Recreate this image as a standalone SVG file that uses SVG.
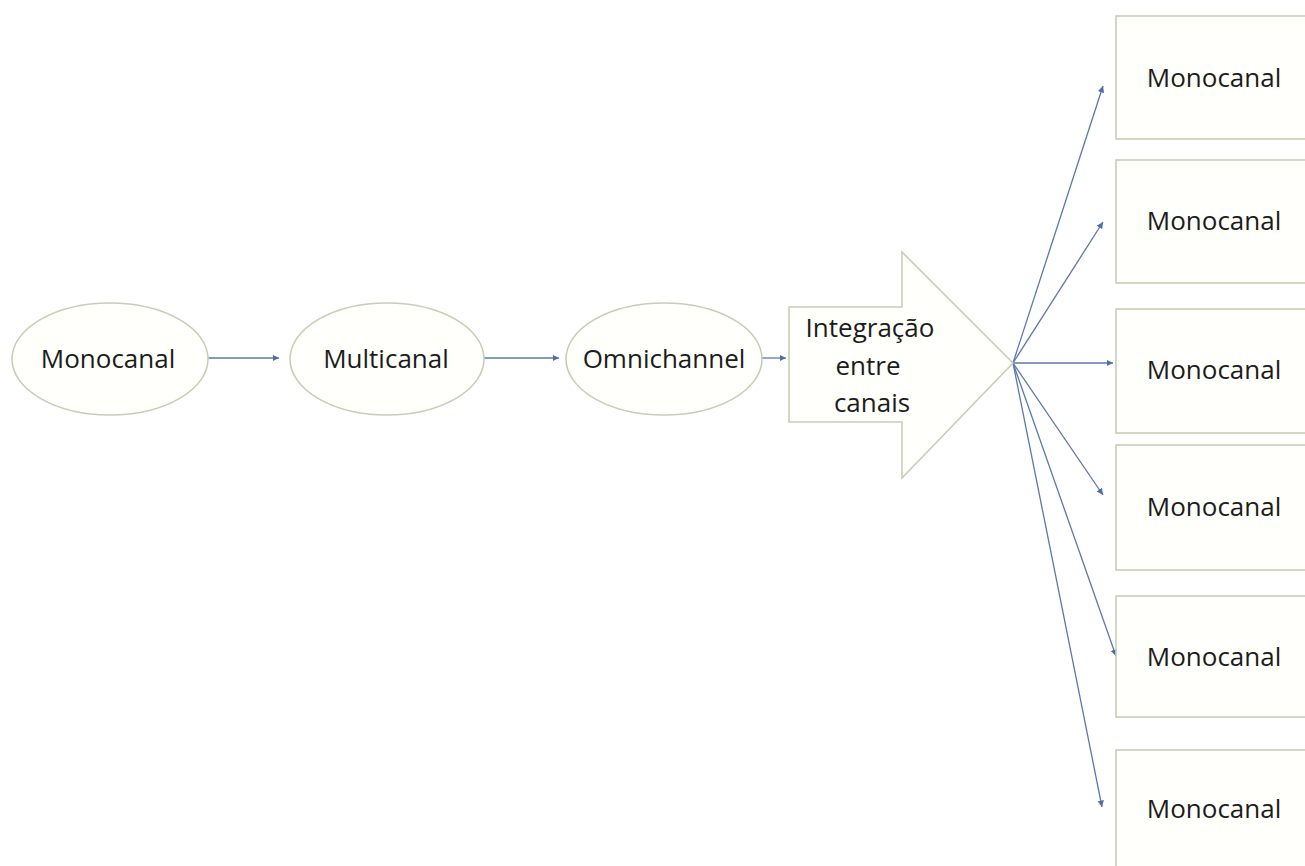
<svg xmlns="http://www.w3.org/2000/svg" width="1305" height="866" viewBox="0 0 1305 866">
  <defs>
    <marker id="head" viewBox="0 0 10 10" refX="10" refY="5" markerWidth="5" markerHeight="5" orient="auto" markerUnits="strokeWidth">
      <path d="M0,0 L10,5 L0,10 z" fill="#4f6fa8"/>
    </marker>
    <style>
      .shape { fill: #fffffb; stroke: #c8cdb8; stroke-width: 1.6; }
      .label { font-family: "Open Sans", "Liberation Sans", sans-serif; font-size: 26px; fill: #1c1c1c; text-anchor: middle; }
      .link { stroke: #5b78ad; stroke-width: 1.3; fill: none; marker-end: url(#head); }
    </style>
  </defs>
  <rect width="1305" height="866" fill="#ffffff"/>

  <g id="connectors">
    <line class="link" x1="206" y1="358" x2="279" y2="358"/>
    <line class="link" x1="484" y1="358" x2="559" y2="358"/>
    <line class="link" x1="762" y1="358" x2="786" y2="358"/>
    <line class="link" x1="1013" y1="363" x2="1103" y2="86"/>
    <line class="link" x1="1013" y1="363" x2="1103" y2="222"/>
    <line class="link" x1="1013" y1="363" x2="1113" y2="363"/>
    <line class="link" x1="1013" y1="363" x2="1103" y2="495"/>
    <line class="link" x1="1013" y1="363" x2="1116" y2="656"/>
    <line class="link" x1="1013" y1="363" x2="1102" y2="807"/>
  </g>

  <g id="node-monocanal">
    <ellipse class="shape" cx="110" cy="359" rx="98" ry="56"/>
    <text class="label" x="108" y="368">Monocanal</text>
  </g>
  <g id="node-multicanal">
    <ellipse class="shape" cx="387" cy="359" rx="97" ry="56"/>
    <text class="label" x="386" y="368">Multicanal</text>
  </g>
  <g id="node-omnichannel">
    <ellipse class="shape" cx="664" cy="359" rx="98" ry="56"/>
    <text class="label" x="664" y="368">Omnichannel</text>
  </g>

  <g id="node-integracao">
    <path class="shape" d="M789,307 L902,307 L902,252 L1013,363 L902,478 L902,422 L789,422 Z"/>
    <text class="label" x="870" y="337">Integração</text>
    <text class="label" x="868" y="375">entre</text>
    <text class="label" x="872" y="412">canais</text>
  </g>

  <g id="node-canal-1">
    <rect class="shape" x="1116" y="16" width="200" height="123"/>
    <text class="label" x="1214" y="87">Monocanal</text>
  </g>
  <g id="node-canal-2">
    <rect class="shape" x="1116" y="160" width="200" height="123"/>
    <text class="label" x="1214" y="230">Monocanal</text>
  </g>
  <g id="node-canal-3">
    <rect class="shape" x="1116" y="309" width="200" height="124"/>
    <text class="label" x="1214" y="379">Monocanal</text>
  </g>
  <g id="node-canal-4">
    <rect class="shape" x="1116" y="445" width="200" height="125"/>
    <text class="label" x="1214" y="516">Monocanal</text>
  </g>
  <g id="node-canal-5">
    <rect class="shape" x="1116" y="596" width="200" height="121"/>
    <text class="label" x="1214" y="666">Monocanal</text>
  </g>
  <g id="node-canal-6">
    <rect class="shape" x="1116" y="750" width="200" height="130"/>
    <text class="label" x="1214" y="818">Monocanal</text>
  </g>
</svg>
